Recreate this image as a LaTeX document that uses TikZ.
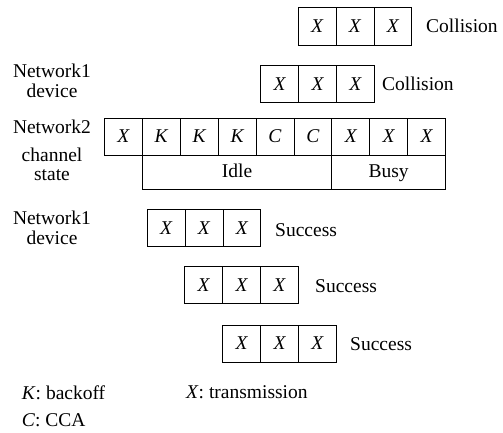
\documentclass[tikz,border=0pt]{standalone}
\usepackage{fontspec}
\setmainfont{Liberation Serif}
\begin{document}
\begin{tikzpicture}[x=1pt,y=-1pt,
  every node/.style={font=\fontsize{19.5}{19.5}\selectfont, inner sep=0pt},
  cell/.style={draw, line width=0.8pt, minimum width=37.9pt, minimum height=37.3pt, anchor=north west, font=\fontsize{19.5}{19.5}\selectfont\itshape},
  state/.style={draw, line width=0.8pt, minimum height=34.3pt, text height=13.5pt, text depth=4pt, anchor=north west},
  lbl/.style={align=center},
  res/.style={anchor=west}]
\useasboundingbox (0,0) rectangle (503,432);
% top collision row
\node[cell] (a1) at (297.7,7.3) {X};
\node[cell] (a2) at (335.6,7.3) {X};
\node[cell] (a3) at (373.5,7.3) {X};
\node[res] (ca) at (426,25.5) {Collision};
% second collision row
\node[cell] (b1) at (260.3,65) {X};
\node[cell] (b2) at (298.2,65) {X};
\node[cell] (b3) at (336.1,65) {X};
\node[res] (cb) at (382,83.5) {Collision};
\node[lbl] (n1a) at (52,81) {Network1\\device};
% Network2 row
\node[cell] (c1) at (104.0,117.5) {X};
\node[cell] (c2) at (141.9,117.5) {K};
\node[cell] (c3) at (179.8,117.5) {K};
\node[cell] (c4) at (217.7,117.5) {K};
\node[cell] (c5) at (255.6,117.5) {C};
\node[cell] (c6) at (293.5,117.5) {C};
\node[cell] (c7) at (331.4,117.5) {X};
\node[cell] (c8) at (369.3,117.5) {X};
\node[cell] (c9) at (407.2,117.5) {X};
\node[state, minimum width=189.5pt] (idle) at (141.9,154.8) {Idle};
\node[state, minimum width=113.7pt] (busy) at (331.4,154.8) {Busy};
\node[lbl] (n2) at (52,127) {Network2};
\node[lbl] (cs) at (52,164.5) {channel\\state};
% success rows
\node[cell] (d1) at (146.7,209) {X};
\node[cell] (d2) at (184.6,209) {X};
\node[cell] (d3) at (222.5,209) {X};
\node[res] (sd) at (275,230.5) {Success};
\node[lbl] (n1b) at (52,228) {Network1\\device};
\node[cell] (e1) at (184.3,266) {X};
\node[cell] (e2) at (222.2,266) {X};
\node[cell] (e3) at (260.1,266) {X};
\node[res] (se) at (315,286.5) {Success};
\node[cell] (f1) at (222.3,324.5) {X};
\node[cell] (f2) at (260.2,324.5) {X};
\node[cell] (f3) at (298.1,324.5) {X};
\node[res] (sf) at (350,344) {Success};
% legend
\node[res] (lk) at (21.7,392.5) {\textit{K}: backoff};
\node[res] (lx) at (186,392.5) {\textit{X}: transmission};
\node[res] (lc) at (21.7,420.5) {\textit{C}: CCA};
\end{tikzpicture}
\end{document}
